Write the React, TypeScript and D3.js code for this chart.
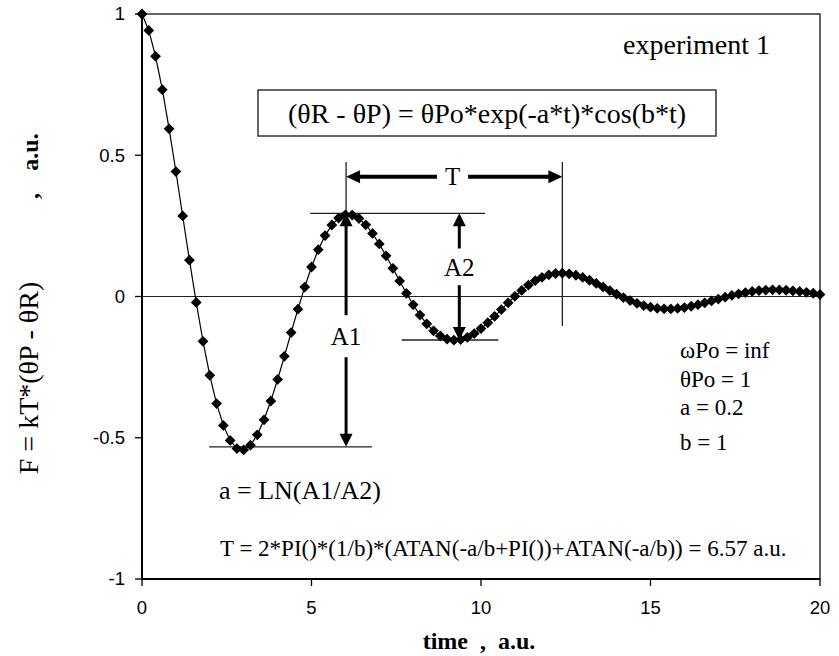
import React from "react";
import * as d3 from "d3";

// ---- data ----
const TIME = [
  0, 0.2, 0.4, 0.6, 0.8, 1, 1.2, 1.4, 1.6, 1.8, 2, 2.2, 2.4, 2.6, 2.8, 3, 3.2, 3.4, 3.6, 3.8,
  4, 4.2, 4.4, 4.6, 4.8, 5, 5.2, 5.4, 5.6, 5.8, 6, 6.2, 6.4, 6.6, 6.8, 7, 7.2, 7.4, 7.6, 7.8,
  8, 8.2, 8.4, 8.6, 8.8, 9, 9.2, 9.4, 9.6, 9.8, 10, 10.2, 10.4, 10.6, 10.8, 11, 11.2, 11.4, 11.6, 11.8,
  12, 12.2, 12.4, 12.6, 12.8, 13, 13.2, 13.4, 13.6, 13.8, 14, 14.2, 14.4, 14.6, 14.8, 15, 15.2, 15.4, 15.6, 15.8,
  16, 16.2, 16.4, 16.6, 16.8, 17, 17.2, 17.4, 17.6, 17.8, 18, 18.2, 18.4, 18.6, 18.8, 19, 19.2, 19.4, 19.6, 19.8, 20,
];
const RESPONSE = [
  1.0, 0.9417, 0.8502, 0.732, 0.5937, 0.4424, 0.285, 0.1285, -0.0212, -0.1585,
  -0.279, -0.379, -0.4563, -0.5094, -0.5382, -0.5433, -0.5264, -0.4898, -0.4365, -0.3699,
  -0.2937, -0.2117, -0.1275, -0.0447, 0.0335, 0.1044, 0.1656, 0.2155, 0.2531, 0.2776,
  0.2892, 0.2884, 0.2761, 0.2538, 0.2231, 0.1859, 0.1441, 0.0998, 0.055, 0.0113,
  -0.0294, -0.0658, -0.0968, -0.1215, -0.1395, -0.1506, -0.1548, -0.1525, -0.1444, -0.1311,
  -0.1136, -0.0929, -0.0701, -0.0464, -0.0224, 0.0005, 0.0216, 0.0403, 0.056, 0.068,
  0.0766, 0.0814, 0.0826, 0.0804, 0.0752, 0.0674, 0.0575, 0.0461, 0.0337, 0.021,
  0.0083, -0.0037, -0.0146, -0.0241, -0.0319, -0.0378, -0.0418, -0.0438, -0.0439, -0.0422,
  -0.039, -0.0345, -0.0288, -0.0225, -0.0157, -0.0092, -0.0025, 0.0037, 0.0093, 0.0141,
  0.018, 0.0209, 0.0227, 0.0235, 0.0232, 0.0221, 0.0202, 0.0178, 0.0148, 0.0115, 0.0075,
];
const X_TICKS = [0, 5, 10, 15, 20];
const X_TICK_LABELS = ["0", "5", "10", "15", "20"];
const Y_TICKS = [-1, -0.5, 0, 0.5, 1];
const Y_TICK_LABELS = ["-1", "-0.5", "0", "0.5", "1"];
const PARAM_LINES = ["ωPo = inf", "θPo = 1", "a = 0.2", "b = 1"];

// annotation anchors (data units)
const PEAK_T = 6.02;
const NEXT_PEAK_T = 12.4;
const PEAK_V = 0.2945;
const TROUGH_V = -0.154;
const MIN_V = -0.532;
const A2_T = 9.36;

const W = 839;
const H = 656;
const SERIF = "'Liberation Serif', 'Times New Roman', serif";
const SANS = "'Liberation Sans', Arial, sans-serif";

function Arrow({ x1, y1, x2, y2, w, head, hw }: any) {
  const dx = x2 - x1;
  const dy = y2 - y1;
  const len = Math.hypot(dx, dy);
  const ux = dx / len;
  const uy = dy / len;
  const bx = x2 - ux * head;
  const by = y2 - uy * head;
  const px = (-uy * hw) / 2;
  const py = (ux * hw) / 2;
  return (
    <g>
      <line x1={x1} y1={y1} x2={bx + ux} y2={by + uy} stroke="#000" strokeWidth={w} />
      <path d={`M${x2},${y2}L${bx + px},${by + py}L${bx - px},${by - py}Z`} fill="#000" />
    </g>
  );
}

export default function App() {
  const x = d3.scaleLinear().domain([0, 20]).range([142, 820]);
  const y = d3.scaleLinear().domain([-1, 1]).range([579, 14]);
  const pts = TIME.map((t, i) => [x(t), y(RESPONSE[i])] as [number, number]);
  const line = d3.line()(pts) as string;
  const marker = d3.symbol(d3.symbolSquare, 58)() as string;

  const tLineTop = y(0.476);
  const tArrowY = y(0.424);
  const paramY = [358, 387, 415, 450];

  return (
    <svg width={W} height={H} style={{ position: "absolute", left: 0, top: 0, background: "#fff" }}>
      <rect x={0} y={0} width={W} height={H} fill="#fff" />
      {/* plot frame */}
      <rect x={142} y={14} width={678} height={565} fill="none" stroke="#222" strokeWidth={1.4} />
      <line x1={142} y1={14} x2={142} y2={579} stroke="#000" strokeWidth={2} />
      <line x1={142} y1={579} x2={820} y2={579} stroke="#000" strokeWidth={2} />
      {/* zero line */}
      <line x1={x(0)} x2={x(20)} y1={y(0)} y2={y(0)} stroke="#222" strokeWidth={1.2} />

      {/* y ticks */}
      {Y_TICKS.map((v, i) => (
        <g key={"y" + i}>
          <line x1={135} x2={142} y1={y(v)} y2={y(v)} stroke="#000" strokeWidth={1.3} />
          <text x={125} y={y(v)} dy="0.35em" textAnchor="end" fontFamily={SANS} fontSize={18.5}>
            {Y_TICK_LABELS[i]}
          </text>
        </g>
      ))}
      {/* x ticks */}
      {X_TICKS.map((t, i) => (
        <g key={"x" + i}>
          <line x1={x(t)} x2={x(t)} y1={579} y2={586} stroke="#000" strokeWidth={1.3} />
          <text x={x(t)} y={614} textAnchor="middle" fontFamily={SANS} fontSize={18.5}>
            {X_TICK_LABELS[i]}
          </text>
        </g>
      ))}

      {/* axis titles */}
      <text
        x={479}
        y={649}
        textAnchor="middle"
        fontFamily={SERIF}
        fontWeight="bold"
        fontSize={24}
        style={{ whiteSpace: "pre" }}
      >
        {"time  ,  a.u."}
      </text>
      <text transform={`translate(38,378) rotate(-90)`} textAnchor="middle" fontFamily={SERIF} fontSize={28}>
        F = kT*(θP - θR)
      </text>
      <text
        transform={`translate(38,196) rotate(-90)`}
        textAnchor="middle"
        fontFamily={SERIF}
        fontWeight="bold"
        fontSize={24}
      >
        ,
      </text>
      <text
        transform={`translate(38,152) rotate(-90)`}
        textAnchor="middle"
        fontFamily={SERIF}
        fontWeight="bold"
        fontSize={24}
      >
        a.u.
      </text>

      {/* formula box */}
      <rect x={258} y={90} width={458} height={46} fill="#fff" stroke="#333" strokeWidth={1.5} />
      <text x={487} y={123} textAnchor="middle" fontFamily={SERIF} fontSize={28}>
        (θR - θP) = θPo*exp(-a*t)*cos(b*t)
      </text>
      <text x={770} y={54} textAnchor="end" fontFamily={SERIF} fontSize={28}>
        experiment 1
      </text>

      {/* reference lines */}
      <line x1={x(PEAK_T)} x2={x(PEAK_T)} y1={tLineTop} y2={y(PEAK_V)} stroke="#222" strokeWidth={1.3} />
      <line x1={x(NEXT_PEAK_T)} x2={x(NEXT_PEAK_T)} y1={tLineTop} y2={y(-0.104)} stroke="#222" strokeWidth={1.3} />
      <line x1={x(4.96)} x2={x(10.12)} y1={y(PEAK_V)} y2={y(PEAK_V)} stroke="#222" strokeWidth={1.3} />
      <line x1={x(7.66)} x2={x(10.51)} y1={y(TROUGH_V)} y2={y(TROUGH_V)} stroke="#222" strokeWidth={1.3} />
      <line x1={x(1.98)} x2={x(6.78)} y1={y(MIN_V)} y2={y(MIN_V)} stroke="#222" strokeWidth={1.3} />

      {/* data */}
      <path d={line} fill="none" stroke="#000" strokeWidth={1.2} />
      {pts.map((p, i) => (
        <path key={i} d={marker} transform={`translate(${p[0]},${p[1]}) rotate(45)`} fill="#000" />
      ))}

      {/* T arrow */}
      <Arrow x1={x(8.7)} y1={tArrowY} x2={x(PEAK_T)} y2={tArrowY} w={4} head={14} hw={13} />
      <Arrow x1={x(9.62)} y1={tArrowY} x2={x(NEXT_PEAK_T)} y2={tArrowY} w={4} head={14} hw={13} />
      <text x={x(9.16)} y={tArrowY} dy="0.35em" textAnchor="middle" fontFamily={SERIF} fontSize={25}>
        T
      </text>

      {/* A2 arrow */}
      <Arrow x1={x(A2_T)} y1={y(0.17)} x2={x(A2_T)} y2={y(PEAK_V)} w={3} head={13} hw={13} />
      <Arrow x1={x(A2_T)} y1={y(0.04)} x2={x(A2_T)} y2={y(TROUGH_V)} w={3} head={13} hw={13} />
      <text x={x(A2_T)} y={y(0.105)} dy="0.35em" textAnchor="middle" fontFamily={SERIF} fontSize={25}>
        A2
      </text>

      {/* A1 arrow */}
      <Arrow x1={x(PEAK_T)} y1={y(-0.066)} x2={x(PEAK_T)} y2={y(PEAK_V)} w={3} head={13} hw={13} />
      <Arrow x1={x(PEAK_T)} y1={y(-0.215)} x2={x(PEAK_T)} y2={y(MIN_V)} w={3} head={13} hw={13} />
      <text x={x(PEAK_T)} y={y(-0.14)} dy="0.35em" textAnchor="middle" fontFamily={SERIF} fontSize={25}>
        A1
      </text>

      <text x={219} y={499} fontFamily={SERIF} fontSize={26}>
        a = LN(A1/A2)
      </text>
      <text x={220} y={556} fontFamily={SERIF} fontSize={23}>
        T = 2*PI()*(1/b)*(ATAN(-a/b+PI())+ATAN(-a/b)) = 6.57 a.u.
      </text>

      {PARAM_LINES.map((s, i) => (
        <text key={s} x={680} y={paramY[i]} fontFamily={SERIF} fontSize={23}>
          {s}
        </text>
      ))}
    </svg>
  );
}
